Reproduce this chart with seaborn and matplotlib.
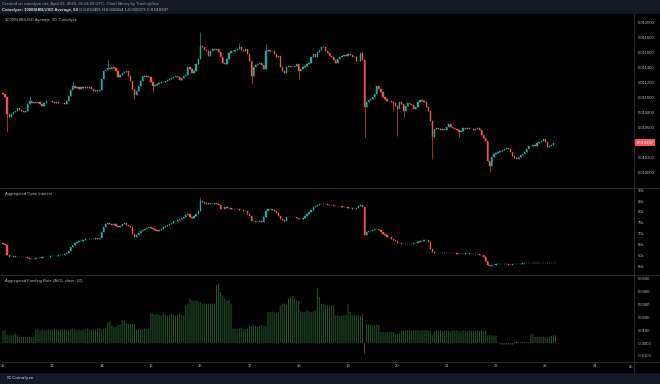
import numpy as np
import pandas as pd
import seaborn as sns
import matplotlib
matplotlib.use("Agg")
from matplotlib import pyplot as plt
from matplotlib import transforms
from matplotlib.lines import Line2D
from matplotlib.patches import Rectangle

# values, one per hour starting Apr 12 00:00 UTC
# price closes in micro-USD (x 1e-6)
price_close_u = [
    11049, 11005, 10783, 10738, 10783, 10805, 10827, 10863, 10836, 10818,
    10814, 10827, 10916, 10952, 10925, 10938, 10925, 10947, 10916, 10889,
    10925, 10952, 10961, 10952, 10943, 10934, 10938, 10925, 10934, 10925,
    10916, 10952, 11027, 11103, 11161, 11129, 11147, 11116, 11138, 11129,
    11147, 11129, 11138, 11112, 11094, 11103, 11094, 11103, 11249, 11352,
    11369, 11396, 11383, 11405, 11392, 11361, 11272, 11307, 11325, 11338,
    11361, 11294, 11227, 11116, 11036, 11094, 11161, 11227, 11294, 11281,
    11294, 11272, 11205, 11161, 11174, 11183, 11192, 11205, 11214, 11227,
    11236, 11249, 11263, 11281, 11289, 11281, 11236, 11263, 11289, 11303,
    11414, 11383, 11325, 11352, 11449, 11516, 11694, 11672, 11636, 11627,
    11560, 11618, 11649, 11636, 11649, 11605, 11538, 11458, 11449, 11516,
    11592, 11618, 11627, 11636, 11649, 11672, 11636, 11627, 11649, 11583,
    11494, 11294, 11405, 11441, 11449, 11458, 11441, 11383, 11618, 11636,
    11627, 11618, 11583, 11547, 11560, 11405, 11352, 11325, 11405, 11427,
    11414, 11405, 11427, 11449, 11352, 11383, 11414, 11427, 11449, 11458,
    11538, 11583, 11547, 11605, 11636, 11672, 11672, 11618, 11592, 11560,
    11547, 11503, 11458, 11516, 11547, 11560, 11574, 11560, 11583, 11574,
    11547, 11538, 11485, 11494, 11592, 11503, 10872, 10938, 10969, 10983,
    11005, 11049, 11161, 11116, 11072, 11005, 10983, 10952, 10961, 10938,
    10925, 10894, 10849, 10938, 10916, 10827, 10894, 10925, 10916, 10907,
    10849, 10872, 10938, 10969, 10952, 10938, 10872, 10827, 10694, 10481,
    10583, 10596, 10583, 10569, 10583, 10569, 10605, 10649, 10614, 10596,
    10583, 10569, 10538, 10561, 10596, 10583, 10592, 10578, 10583, 10569,
    10583, 10596, 10569, 10507, 10463, 10427, 10161, 10094, 10205, 10250,
    10258, 10272, 10294, 10303, 10316, 10330, 10316, 10272, 10227, 10196,
    10183, 10214, 10241, 10250, 10272, 10316, 10361, 10361, 10374, 10361,
    10392, 10405, 10427, 10449, 10405, 10338, 10361, 10374, 10401, 10397,
]
price_first_open_u = 11060
price_wick_high_u = {13: 11027, 34: 11227, 51: 11516, 96: 11872, 115: 11725,
                     128: 11716, 156: 11703}
price_wick_low_u = {2: 10538, 64: 10983, 73: 11072, 121: 11183, 144: 11249,
                    176: 10472, 190: 10827, 192: 10494, 195: 10738, 209: 10183,
                    222: 10472, 237: 10005}

# aggregated open interest, thousands
oi_close_k = [
    65.5, 65.2, 60.6, 59.7, 59.7, 59.8, 59.5, 59.7, 59.4, 59.5,
    59.7, 59.4, 58.9, 58.6, 58.8, 58.8, 58.9, 59.1, 59.2, 59.4,
    59.4, 59.5, 59.7, 59.8, 59.8, 60.0, 60.2, 60.3, 60.5, 60.6,
    60.9, 61.2, 62.1, 63.9, 65.2, 65.8, 66.2, 66.7, 67.0, 67.3,
    67.6, 67.7, 67.9, 67.7, 67.9, 68.0, 67.9, 68.2, 70.8, 73.3,
    74.5, 74.8, 74.5, 74.2, 74.5, 73.8, 73.0, 73.8, 74.5, 74.8,
    74.2, 73.6, 73.0, 70.0, 68.5, 69.7, 70.6, 71.2, 71.8, 72.3,
    72.7, 73.0, 72.7, 72.1, 71.8, 71.5, 71.8, 72.3, 73.0, 73.6,
    74.2, 74.5, 75.2, 75.8, 76.1, 76.4, 77.0, 77.3, 77.9, 78.5,
    79.1, 77.9, 77.3, 78.2, 79.1, 80.6, 85.2, 84.4, 83.9, 83.6,
    83.9, 83.6, 83.8, 83.9, 83.6, 83.3, 81.4, 81.2, 82.1, 81.8,
    81.7, 81.5, 81.4, 81.5, 81.2, 80.9, 80.9, 80.6, 80.3, 79.1,
    78.2, 76.1, 75.8, 75.6, 75.5, 75.8, 75.3, 77.6, 80.3, 81.2,
    81.4, 80.9, 80.3, 79.4, 78.3, 77.0, 76.4, 76.1, 77.9, 77.7,
    77.6, 77.7, 77.6, 77.4, 77.0, 76.8, 77.3, 78.2, 79.1, 79.8,
    80.9, 82.1, 82.7, 83.3, 83.6, 83.8, 83.6, 83.5, 83.3, 83.2,
    83.0, 82.9, 82.7, 82.6, 82.6, 82.4, 82.4, 82.1, 81.8, 81.7,
    81.5, 81.4, 81.8, 82.9, 83.3, 82.1, 69.7, 70.8, 71.2, 71.5,
    71.8, 72.3, 72.4, 71.8, 70.8, 70.0, 69.4, 68.8, 68.5, 67.9,
    67.3, 66.7, 66.1, 65.8, 65.5, 65.3, 65.5, 65.6, 65.5, 65.6,
    65.8, 66.1, 66.4, 66.7, 67.0, 67.3, 67.3, 66.2, 63.2, 61.7,
    61.2, 61.4, 61.4, 61.5, 61.5, 61.4, 61.5, 61.5, 61.4, 61.2,
    61.2, 61.1, 60.9, 61.1, 61.1, 61.2, 61.2, 61.1, 60.9, 60.9,
    60.8, 60.8, 60.6, 60.3, 59.4, 57.6, 56.1, 55.5, 55.9, 56.1,
    56.2, 56.2, 56.4, 56.2, 56.4, 56.2, 56.1, 56.1, 56.2, 56.2,
    56.4, 56.4, 56.5, 56.7, 56.7, 56.7, 56.8, 56.8, 57.0, 57.0,
    56.8, 56.8, 57.0, 57.0, 56.8, 56.7, 56.8, 56.8, 57.0, 57.0,
]
oi_first_open_k = 65.7
oi_wick_high_k = {96: 87.0}

# aggregated funding rate (avg, close, 10)
funding = [
    0.0099, 0.0099, 0.0065, 0.0060, 0.0060, 0.0065, 0.0073, 0.0060, 0.0047, 0.0047,
    0.0047, 0.0047, 0.0047, 0.0047, 0.0047, 0.0047, 0.0107, 0.0107, 0.0099, 0.0107,
    0.0103, 0.0099, 0.0107, 0.0103, 0.0107, 0.0112, 0.0107, 0.0099, 0.0103, 0.0107,
    0.0107, 0.0103, 0.0099, 0.0107, 0.0112, 0.0107, 0.0103, 0.0107, 0.0099, 0.0107,
    0.0107, 0.0112, 0.0107, 0.0103, 0.0107, 0.0107, 0.0112, 0.0117, 0.0107, 0.0112,
    0.0117, 0.0159, 0.0169, 0.0138, 0.0125, 0.0125, 0.0138, 0.0143, 0.0177, 0.0177,
    0.0151, 0.0151, 0.0151, 0.0151, 0.0151, 0.0107, 0.0107, 0.0103, 0.0107, 0.0112,
    0.0107, 0.0112, 0.0237, 0.0229, 0.0221, 0.0229, 0.0221, 0.0216, 0.0229, 0.0221,
    0.0216, 0.0221, 0.0229, 0.0221, 0.0216, 0.0221, 0.0229, 0.0221, 0.0216, 0.0294,
    0.0307, 0.0346, 0.0333, 0.0326, 0.0333, 0.0326, 0.0320, 0.0307, 0.0307, 0.0307,
    0.0307, 0.0307, 0.0307, 0.0307, 0.0451, 0.0464, 0.0398, 0.0372, 0.0346, 0.0333,
    0.0333, 0.0307, 0.0112, 0.0112, 0.0107, 0.0112, 0.0117, 0.0112, 0.0107, 0.0112,
    0.0133, 0.0133, 0.0138, 0.0133, 0.0125, 0.0133, 0.0138, 0.0133, 0.0133, 0.0242,
    0.0242, 0.0247, 0.0242, 0.0237, 0.0242, 0.0294, 0.0307, 0.0307, 0.0299, 0.0346,
    0.0359, 0.0367, 0.0352, 0.0333, 0.0326, 0.0247, 0.0242, 0.0242, 0.0255, 0.0247,
    0.0242, 0.0247, 0.0255, 0.0430, 0.0359, 0.0307, 0.0307, 0.0294, 0.0294, 0.0289,
    0.0294, 0.0294, 0.0216, 0.0216, 0.0211, 0.0216, 0.0216, 0.0221, 0.0307, 0.0242,
    0.0216, 0.0221, 0.0216, 0.0221, 0.0216, 0.0229, -0.0083, 0.0151, 0.0143, 0.0143,
    0.0138, 0.0138, 0.0143, 0.0138, 0.0086, 0.0086, 0.0083, 0.0086, 0.0088, 0.0086,
    0.0086, 0.0073, 0.0073, 0.0073, 0.0099, 0.0096, 0.0099, 0.0101, 0.0099, 0.0096,
    0.0099, 0.0101, 0.0099, 0.0096, 0.0099, 0.0099, 0.0101, 0.0099, 0.0096, 0.0060,
    0.0091, 0.0099, 0.0094, 0.0099, 0.0091, 0.0096, 0.0099, 0.0094, 0.0091, 0.0099,
    0.0096, 0.0099, 0.0091, 0.0094, 0.0099, 0.0096, 0.0091, 0.0099, 0.0094, 0.0096,
    0.0091, 0.0099, 0.0094, 0.0096, 0.0091, 0.0099, 0.0060, 0.0060, 0.0060, 0.0055,
    0.0060, 0.0003, -0.0005, -0.0013, -0.0013, -0.0013, -0.0013, -0.0013, -0.0013, 0.0008,
    0.0008, 0.0008, 0.0008, 0.0008, 0.0008, 0.0008, 0.0008, 0.0073, 0.0073, 0.0047,
    0.0047, 0.0047, 0.0047, 0.0047, 0.0047, 0.0034, 0.0047, 0.0055, 0.0060, 0.0060,
]

day_labels = ["12", "13", "14", "15", "16", "17", "18", "19", "20", "21", "22", "23", "24"]
# 0.010400 is hidden behind the last-price marker in the reference
price_ticks = [0.0100, 0.0102, 0.0106, 0.0108, 0.0110, 0.0112, 0.0114,
               0.0116, 0.0118, 0.0120]
oi_ticks = [55, 60, 65, 70, 75, 80, 85, 90]
fr_ticks = [-0.01, 0.0, 0.01, 0.02, 0.03, 0.04, 0.05]
fr_tick_labels = ["-0.0100", "-0.0000", "0.0100", "0.0200", "0.0300", "0.0400", "0.0500"]
last_price = 0.010397

BG = "#000000"
PANEL = "#151924"
UP = "#26a69a"
DOWN = "#ef5350"
TXT = "#b2b5be"
LINE = "#2a2e39"
FR_POS = "#24552a"
FR_NEG = "#554040"

W, H = 660, 384


def fx(x):
    return x / W


def fy(y):
    return 1 - y / H


def ohlc(close, first_open, hi_w, lo_w):
    close = np.asarray(close, float)
    op = np.r_[first_open, close[:-1]]
    hi = np.maximum(op, close)
    lo = np.minimum(op, close)
    for i, v in hi_w.items():
        hi[i] = v
    for i, v in lo_w.items():
        lo[i] = v
    return op, hi, lo, close


def candles(ax, t, op, hi, lo, cl, width=0.6):
    cols = np.where(cl >= op, UP, DOWN)
    ax.vlines(t, lo, hi, colors=cols, linewidth=0.45)
    ax.bar(t, cl - op, bottom=op, width=width, color=cols, edgecolor=cols, linewidth=0.3)


sns.set_theme(style="dark", rc={"axes.facecolor": BG, "figure.facecolor": PANEL,
                                 "axes.grid": False})
plt.rcParams["font.family"] = ["Liberation Sans", "DejaVu Sans"]

fig = plt.figure(figsize=(W / 100, H / 100), dpi=100)
fig.add_artist(Rectangle((0, fy(372)), 1, (372 - 14) / H, transform=fig.transFigure,
                         color=BG, zorder=-5))

x0, x1 = 2, 634
ax1 = fig.add_axes([fx(x0), fy(187.5), fx(x1 - x0), (187.5 - 14) / H])
ax2 = fig.add_axes([fx(x0), fy(275), fx(x1 - x0), (275 - 188) / H])
ax3 = fig.add_axes([fx(x0), fy(361.5), fx(x1 - x0), (361.5 - 275.5) / H])

hours = np.arange(len(price_close_u))
po, ph, pl, pc = ohlc(np.array(price_close_u) * 1e-6, price_first_open_u * 1e-6,
                      {k: v * 1e-6 for k, v in price_wick_high_u.items()},
                      {k: v * 1e-6 for k, v in price_wick_low_u.items()})
candles(ax1, hours, po, ph, pl, pc)

oi_hours = np.arange(len(oi_close_k))
oo, oh, ol, oc = ohlc(oi_close_k, oi_first_open_k, oi_wick_high_k, {})
candles(ax2, oi_hours, oo, oh, ol, oc)

fr = np.array(funding)
fr_df = pd.DataFrame({"hour": np.arange(len(fr)), "rate": fr,
                      "side": np.where(fr >= 0, "pos", "neg")})
sns.barplot(data=fr_df, x="hour", y="rate", hue="side", palette={"pos": FR_POS, "neg": FR_NEG},
            native_scale=True, dodge=False, width=0.5, errorbar=None, legend=False,
            saturation=1, orient="x", linewidth=0, ax=ax3)
# no pixel snapping, so the thin bars stay evenly spaced
for p in ax3.patches:
    p.set_snap(False)

# pixel mapping of the reference: x = 3 + 2.054 * hour
xlim = ((x0 - 3) / 2.054, (x1 - 3) / 2.054)
ax1.set_ylim(0.0098027, 0.012116)
ax2.set_ylim(51.36, 90.91)
ax3.set_ylim(-0.01445, 0.05273)

for ax in (ax1, ax2, ax3):
    ax.set_facecolor(BG)
    ax.set_xlim(*xlim)
    for s in ax.spines.values():
        s.set_visible(False)
    ax.yaxis.tick_right()
    ax.tick_params(axis="y", length=0, pad=3, labelsize=3, colors=TXT)
    ax.set_xlabel("")
    ax.set_ylabel("")

ax1.set_yticks(price_ticks, [f"{v:.6f}" for v in price_ticks])
ax2.set_yticks(oi_ticks, [f"{v}k" for v in oi_ticks])
ax3.set_yticks(fr_ticks, fr_tick_labels)
ax1.set_xticks([])
ax2.set_xticks([])
ax3.set_xticks([24 * i for i in range(len(day_labels))], day_labels)
ax3.tick_params(axis="x", length=0, pad=2, labelsize=3, colors=TXT)
fig.text(fx(631), fy(366.5), "25", fontsize=3, color=TXT, ha="center", va="center")

# last price marker on the price scale
tr = transforms.blended_transform_factory(ax1.transAxes, ax1.transData)
ax1.text(1.004, last_price, f"{last_price:.6f}", transform=tr, ha="left", va="center",
         fontsize=3, color="white",
         bbox=dict(boxstyle="square,pad=0.35", fc="#f7525f", ec="none"))

# pane separators and price scale border
for yy in (187.7, 275.3, 361.8):
    fig.add_artist(Line2D([0, 1], [fy(yy), fy(yy)], color=LINE, lw=0.6))
fig.add_artist(Line2D([fx(634), fx(634)], [fy(14), fy(372)], color=LINE, lw=0.6))

# pane titles
fig.text(fx(5), fy(19.5), "1000SHIB/USD Average, 60, Coinalyze", fontsize=3, color=TXT, va="center")
fig.text(fx(5), fy(194), "Aggregated Open Interest", fontsize=3, color=TXT, va="center")
fig.text(fx(5), fy(281), "Aggregated Funding Rate (AVG, close, 10)", fontsize=3, color=TXT,
         va="center")

# header
fig.text(fx(2), fy(4.3), "Created on coinalyze.net, April 23, 2023, 05:54:50 UTC, "
         "Chart library by TradingView", fontsize=3.1, color="#9598a1", va="center")
head = fig.text(fx(2), fy(10), "Coinalyze: 1000SHIB/USD Average, 60", fontsize=3.1,
                color="#d1d4dc", fontweight="bold", va="center")
ext = head.get_window_extent(renderer=fig.canvas.get_renderer())
fig.text(ext.x1 / W + fx(1.5), fy(10), "O:0.010401 H:0.010414 L:0.010373 C:0.010397",
         fontsize=3.1, color="#b2b5be", va="center")

# footer
fig.text(fx(7), fy(378), "\u2637 Coinalyze", fontsize=3.2, color="#d1d4dc", va="center",
         family=["DejaVu Sans"])

fig.savefig("out.png", dpi=100, facecolor=PANEL)
